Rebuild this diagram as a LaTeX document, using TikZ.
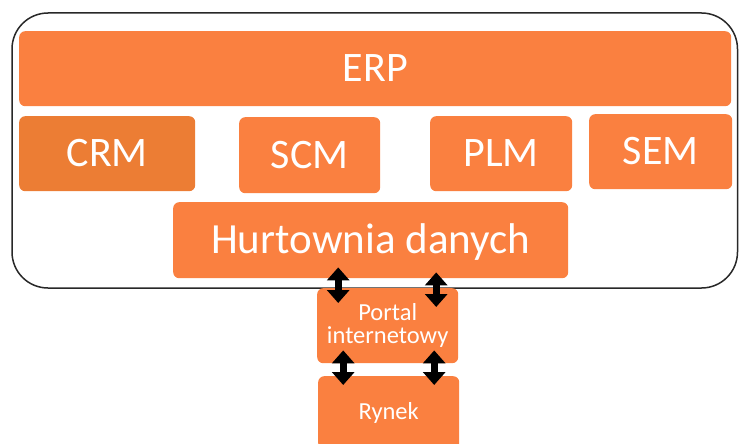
\documentclass[tikz,border=0pt]{standalone}
\usepackage{fontspec}
\setmainfont{Carlito}
\usetikzlibrary{arrows.meta,positioning}

\definecolor{accent}{RGB}{250,128,64}
\definecolor{accentdark}{RGB}{236,125,52}
\definecolor{framegray}{RGB}{40,40,40}

\begin{document}
\begin{tikzpicture}[
        x=1pt, y=-1pt,
        every node/.style={text=white, inner sep=0pt, rounded corners=6pt, align=center, anchor=north west},
        module/.style={fill=accent, font=\fontsize{42}{50}\selectfont, text height=26.5pt, text depth=0pt},
        small/.style={fill=accent, font=\fontsize{24.5}{23}\selectfont},
        link/.style={line width=7pt, {Triangle[width=22pt,length=13pt]}-{Triangle[width=22pt,length=13pt]}}
    ]
    \useasboundingbox (0,0) rectangle (739,444);
    \clip (0,0) rectangle (739,444);

    % ERP frame
    \draw[framegray, line width=1.5pt, rounded corners=36pt] (12,13) rectangle (737.5,288);

    % Nodes
    \node (erp)[module, minimum width=712pt, minimum height=75pt] at (19,31) {ERP};
    \node (crm)[module, fill=accentdark, minimum width=176pt, minimum height=75pt] at (19,116) {CRM};
    \node (scm)[module, minimum width=141pt, minimum height=76pt] at (239,117) {SCM};
    \node (plm)[module, minimum width=142pt, minimum height=75pt] at (430,116) {PLM};
    \node (sem)[module, minimum width=143pt, minimum height=75pt] at (589,114) {SEM};
    \node (hurt)[module, minimum width=395pt, minimum height=76pt, font=\fontsize{43}{50}\selectfont] at (173,202) {Hurtownia danych};

    \node (portal)[small, minimum width=141pt, minimum height=75pt] at (317,288) {Portal\\internetowy};
    \node (rynek)[small, minimum width=141pt, minimum height=73pt] at (318,376) {Rynek};

    % Edges
    \draw[link] ([xshift=-32.5pt,yshift=11pt]hurt.south) -- ([xshift=-49.5pt,yshift=-15pt]portal.north);
    \draw[link] ([xshift=65.5pt,yshift=6pt]hurt.south) -- ([xshift=48.5pt,yshift=-19pt]portal.north);
    \draw[link] ([xshift=-44.5pt,yshift=13pt]portal.south) -- ([xshift=-45.5pt,yshift=-9pt]rynek.north);
    \draw[link] ([xshift=46.5pt,yshift=13pt]portal.south) -- ([xshift=45.5pt,yshift=-9pt]rynek.north);

\end{tikzpicture}
\end{document}
